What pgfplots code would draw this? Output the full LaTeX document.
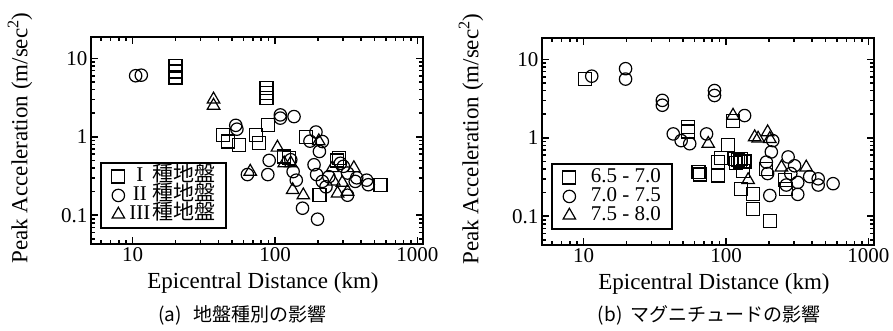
\documentclass[border=0pt]{standalone}
\usepackage{pgfplots}
\pgfplotsset{compat=1.18}
\usepackage{fontspec}
\setmainfont{Liberation Serif}
\newfontfamily\jp{Noto Sans CJK JP}

\pgfplotstableread{
x y
20 8.0
20 6.8
20 5.7
87 4.2
87 3.6
87 3.1
43 1.06
46.6 0.87
56 0.79
73.6 1.06
77.6 0.83
89 1.42
165 1.0
126 0.535
116 0.56
205 0.18
280 0.535
274 0.50
551 0.245
}\gA
\pgfplotstableread{
x y
10.5 6.0
11.5 6.1
53 1.4
54 1.25
109 1.9
109 1.73
136 1.81
194 1.15
176 0.88
215 0.87
205 0.65
91 0.5
89 0.33
64 0.33
129 0.51
134 0.36
141 0.28
156 0.123
199 0.089
188 0.44
196 0.33
215 0.27
228 0.23
239 0.31
288 0.46
302 0.42
323 0.345
323 0.18
366 0.27
375 0.30
440 0.28
452 0.245
}\gB
\pgfplotstableread{
x y
37 3.0
37 2.5
104 0.73
203 0.88
67 0.36
116 0.46
129 0.46
133 0.21
158 0.18
253 0.40
259 0.27
275 0.19
297 0.26
323 0.20
358 0.40
}\gC
\pgfplotstableread{
x y
10.2 5.6
54 1.37
54 1.2
112 1.65
103.5 0.8
88 0.49
92 0.55
88 0.33
64 0.365
66 0.34
116 0.54
122 0.52
128 0.54
135 0.5
118 0.48
125 0.5
132 0.38
128 0.22
155 0.19
155 0.125
203 0.088
192 0.40
258 0.29
265 0.22
}\mA
\pgfplotstableread{
x y
11.4 6.1
19.7 7.6
19.7 5.6
35.7 3.0
35.7 2.6
83 4.0
83 3.46
135 1.92
42.6 1.12
48.4 0.92
55.6 0.84
73 1.12
213 0.92
208 0.66
192 0.49
196 0.35
203 0.184
273 0.57
303 0.44
265 0.25
319 0.27
319 0.19
444 0.30
444 0.25
565 0.26
387 0.32
285 0.35
}\mB
\pgfplotstableread{
x y
112 1.92
75 0.84
143 0.29
159 1.02
168 0.98
196 1.18
203 0.97
245 0.42
366 0.42
}\mC

\begin{document}
\begin{tikzpicture}[x=1pt,y=1pt]
\path[use as bounding box] (0,0) rectangle (893,330);
\begin{axis}[at={(91pt,86pt)}, anchor=south west,
    xmode=log, ymode=log,
    scale only axis, width=332pt, height=207pt,
    xmin=5.1, xmax=1095, ymin=0.043, ymax=18.7,
    xtick={10,100,1000}, xticklabels={\textrm{10},\textrm{100},\textrm{1000}},
    ytick={0.1,1,10}, yticklabels={\textrm{0.1},\textrm{1},\textrm{10}},
    minor xtick={6,7,8,9,20,30,40,50,60,70,80,90,200,300,400,500,600,700,800,900},
    minor ytick={0.05,0.06,0.07,0.08,0.09,0.2,0.3,0.4,0.5,0.6,0.7,0.8,0.9,2,3,4,5,6,7,8,9},
    tick style={line width=1.6pt, black},
    major tick length=7pt, minor tick length=4.5pt,
    axis line style={line width=2.2pt},
    tick label style={font=\fontsize{21}{21}\selectfont},
    xlabel={Epicentral Distance (km)},
    ylabel={Peak Acceleration (m/sec\textsuperscript{2})},
    xlabel style={at={(axis description cs:0.518,-0.188)},anchor=center,font=\fontsize{23}{23}\selectfont},
    ylabel style={at={(axis description cs:-0.214,0.512)},anchor=center,font=\fontsize{23}{23}\selectfont},
    legend style={at={(axis description cs:0.027,0.072)}, anchor=south west,
      draw=black, line width=1.8pt, font=\fontsize{21}{21}\selectfont,
      inner xsep=11pt, inner ysep=4.5pt, row sep=0.5pt, column sep=3pt,
      nodes={inner sep=0pt, text height=14.5pt, text depth=4pt}},
    legend cell align=left,
    clip=false]
\addplot[only marks, mark=square, mark size=6.5pt, mark options={line width=1.2pt, draw=black}] table {\gA};
\addlegendentry{\makebox[1.15em]{I}{\jp 種地盤}}
\addplot[only marks, mark=o, mark size=6.2pt, mark options={line width=1.2pt, draw=black}] table {\gB};
\addlegendentry{\makebox[1.15em]{II}{\jp 種地盤}}
\addplot[only marks, mark=triangle, mark size=7.2pt, mark options={line width=1.2pt, draw=black}] table {\gC};
\addlegendentry{\makebox[1.15em]{III}{\jp 種地盤}}
\end{axis}
\begin{axis}[at={(542pt,85pt)}, anchor=south west,
    xmode=log, ymode=log,
    scale only axis, width=332pt, height=207pt,
    xmin=5.1, xmax=1095, ymin=0.043, ymax=18.7,
    xtick={10,100,1000}, xticklabels={\textrm{10},\textrm{100},\textrm{1000}},
    ytick={0.1,1,10}, yticklabels={\textrm{0.1},\textrm{1},\textrm{10}},
    minor xtick={6,7,8,9,20,30,40,50,60,70,80,90,200,300,400,500,600,700,800,900},
    minor ytick={0.05,0.06,0.07,0.08,0.09,0.2,0.3,0.4,0.5,0.6,0.7,0.8,0.9,2,3,4,5,6,7,8,9},
    tick style={line width=1.6pt, black},
    major tick length=7pt, minor tick length=4.5pt,
    axis line style={line width=2.2pt},
    tick label style={font=\fontsize{21}{21}\selectfont},
    xlabel={Epicentral Distance (km)},
    ylabel={Peak Acceleration (m/sec\textsuperscript{2})},
    xlabel style={at={(axis description cs:0.518,-0.188)},anchor=center,font=\fontsize{23}{23}\selectfont},
    ylabel style={at={(axis description cs:-0.214,0.512)},anchor=center,font=\fontsize{23}{23}\selectfont},
    legend style={at={(axis description cs:0.027,0.072)}, anchor=south west,
      draw=black, line width=1.8pt, font=\fontsize{21}{21}\selectfont,
      inner xsep=11pt, inner ysep=4.5pt, row sep=0.5pt, column sep=3pt,
      nodes={inner sep=0pt, text height=14.5pt, text depth=4pt}},
    legend cell align=left,
    clip=false]
\addplot[only marks, mark=square, mark size=6.5pt, mark options={line width=1.2pt, draw=black}] table {\mA};
\addlegendentry{\hspace{12pt}6.5 - 7.0}
\addplot[only marks, mark=o, mark size=6.2pt, mark options={line width=1.2pt, draw=black}] table {\mB};
\addlegendentry{\hspace{12pt}7.0 - 7.5}
\addplot[only marks, mark=triangle, mark size=7.2pt, mark options={line width=1.2pt, draw=black}] table {\mC};
\addlegendentry{\hspace{12pt}7.5 - 8.0}
\end{axis}
\node[font=\jp\fontsize{19}{19}\selectfont] at (242.5,15) {(a)\hspace{0.6em}地盤種別の影響};
\node[font=\jp\fontsize{19}{19}\selectfont] at (709,15) {(b)\hspace{0.4em}マグニチュードの影響};
\end{tikzpicture}
\end{document}
